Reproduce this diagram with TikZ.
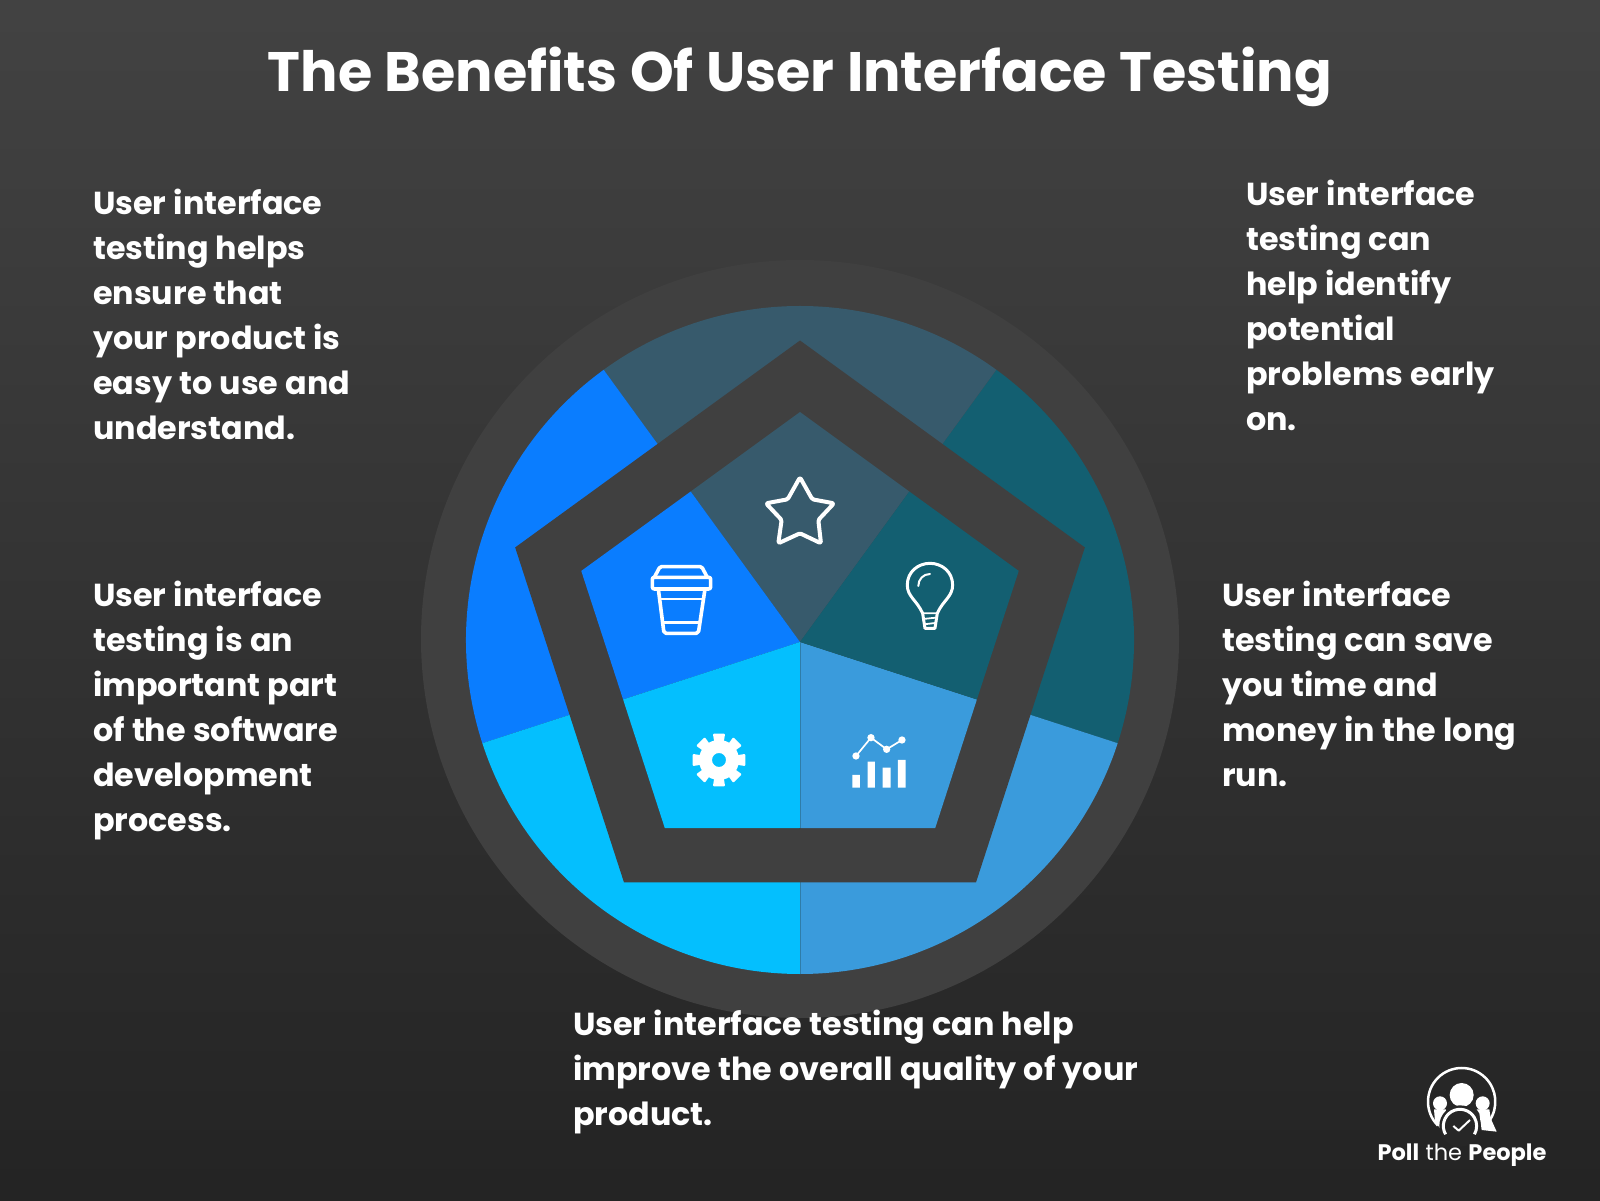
\documentclass[tikz,border=0pt]{standalone}
\usepackage{fontspec}
\setmainfont{Poppins}[WordSpace=1.06]
\usetikzlibrary{calc}
\definecolor{sTop}{HTML}{375A6C}
\definecolor{sRight}{HTML}{135F71}
\definecolor{sLowR}{HTML}{3A9BDC}
\definecolor{sLowL}{HTML}{04BFFE}
\definecolor{sLeft}{HTML}{0A7DFF}
\definecolor{dark}{HTML}{404040}
\definecolor{logobg}{HTML}{272727}
\definecolor{seam}{HTML}{2F7CA8}
\tikzset{
  blurb/.style={anchor=north west,align=left,inner sep=0pt,text=white,font=\fontsize{31.8}{45}\selectfont\bfseries},
  icon/.style={draw=white,line width=3.6pt,line join=round,line cap=round},
  thinicon/.style={draw=white,line width=3pt,line join=round,line cap=round}
}
\begin{document}
\begin{tikzpicture}[x=1pt,y=1pt]
\useasboundingbox (0,0) rectangle (1600,1200);
\shade[top color=black!74,bottom color=black!86,middle color=black!80] (0,0) rectangle (1600,1200);
\fill[dark] (800,561) circle[radius=379];
\begin{scope}[shift={(800,560)}]
  \foreach \a/\c in {54/sRight,126/sTop,198/sLeft,270/sLowL,342/sLowR}{
    \fill[\c] (0,0) -- (\a-72:334) arc[start angle=\a-72,end angle=\a,radius=334] -- cycle;
  }
  \draw[seam,line width=0.8pt] (0,0) -- (270:334);
  \fill[dark] (90:299.5) -- (162:299.5) -- (234:299.5) -- (306:299.5) -- (18:299.5) -- cycle;
\end{scope}
\begin{scope}[shift={(800,558)}]
  \foreach \a/\c in {54/sTop,126/sLeft,198/sLowL,270/sLowR,342/sRight}{
    \fill[\c] (0,0) -- (\a:186) -- (\a+36:230) -- (\a+72:186) -- cycle;
  }
  \draw[seam,line width=0.8pt] (0,0) -- (270:186);
\end{scope}
\node[anchor=base,inner sep=0pt,text=white,font=\fontsize{55.6}{70}\selectfont\bfseries] (title) at (800,1108) {The Benefits Of User Interface Testing};
\node[blurb] (tl) at (93,1011) {User interface\\testing helps\\ensure that\\your product is\\easy to use and\\understand.};
\node[blurb] (tr) at (1246,1020) {User interface\\testing can\\help identify\\potential\\problems early\\on.};
\node[blurb] (ml) at (93,619) {User interface\\testing is an\\important part\\of the software\\development\\process.};
\node[blurb] (mr) at (1222,619) {User interface\\testing can save\\you time and\\money in the long\\run.};
\node[blurb] (bot) at (573,190) {User interface testing can help\\improve the overall quality of your\\product.};
% star and cup and bulb
\begin{scope}[shift={(600,760)},x=0.3333pt,y=-0.3333pt]
  \draw[icon,line width=4pt,rounded corners=1.5pt] (600,112) -- (637,178) -- (702,190) -- (655,240) -- (663,310) -- (600,280) -- (535,310) -- (545,240) -- (498,190) -- (563,178) -- cycle;
  \draw[icon,rounded corners=1.5pt] (163,412) -- (180,380) -- (305,380) -- (322,412);
  \draw[icon,rounded corners=2pt] (157,412) rectangle (332,447);
  \draw[icon,rounded corners=2pt] (175,447) -- (192,580) -- (295,580) -- (315,447);
  \draw[icon,line width=2.6pt] (183,477) -- (307,477) (190,548) -- (298,548);
  \draw[thinicon] (968,520) .. controls (950,480) and (922,470) .. (922,435) .. controls (922,395) and (955,370) .. (990,370) .. controls (1025,370) and (1058,395) .. (1058,435) .. controls (1058,470) and (1030,480) .. (1012,520) -- (1005,565) -- (975,565) -- cycle;
  \draw[draw=white,line width=1.8pt,line cap=round] (968,520) -- (1012,520) (970,537) -- (1008,533) (972,553) -- (1006,549);
  \draw[draw=white,line width=2pt,line cap=round] (955,438) .. controls (955,418) and (970,402) .. (990,402);
\end{scope}
% gear and chart
\begin{scope}[shift={(660,500)},x=0.3333pt,y=-0.3333pt]
  \begin{scope}[shift={(177,180)}]
    \foreach \a in {0,45,...,315}{
      \fill[white,rounded corners=1pt] (\a-15:55) -- (\a-13:81) -- (\a+13:81) -- (\a+15:55) -- cycle;
    }
    \fill[white,even odd rule] (0,0) circle[radius=60] (0,0) circle[radius=21];
  \end{scope}
  \fill[white] (577,225) rectangle (600,263) (623,185) rectangle (645,263) (668,203) rectangle (692,263) (714,180) rectangle (737,263);
  \draw[white,line width=1.7pt] (588,168) -- (633,113) -- (680,148) -- (726,120);
  \fill[white] (588,168) circle[radius=11] (633,113) circle[radius=11] (680,148) circle[radius=11] (726,120) circle[radius=11];
\end{scope}
% logo
\begin{scope}[shift={(1360,150)},x=0.3333pt,y=-0.3333pt]
  \draw[white,line width=2.5pt] (305,155) ++(135:101) arc[start angle=135,end angle=395,radius=101];
  \fill[white] (305,135) circle[radius=36];
  \fill[white] (240,160) circle[radius=21];
  \fill[white] (368,160) circle[radius=21];
  \fill[white] (222,178) -- (258,178) -- (256,195) -- (244,215) -- (248,245) -- (225,215) -- cycle;
  \fill[white] (350,178) -- (388,178) -- (392,205) -- (410,245) -- (365,240) -- (358,190) -- cycle;
  \fill[logobg] (300,228) circle[radius=62];
  \draw[white,line width=3pt] (300,228) ++(150:50) arc[start angle=150,end angle=390,radius=50];
  \draw[white,line width=2pt,line join=round] (280,228) -- (296,242) -- (330,210);
\end{scope}
\node[anchor=base,inner sep=0pt,text=white,font=\fontsize{22.5}{26}\selectfont] (logo) at (1462,40) {\textbf{Poll} the \textbf{People}};
\end{tikzpicture}
\end{document}
